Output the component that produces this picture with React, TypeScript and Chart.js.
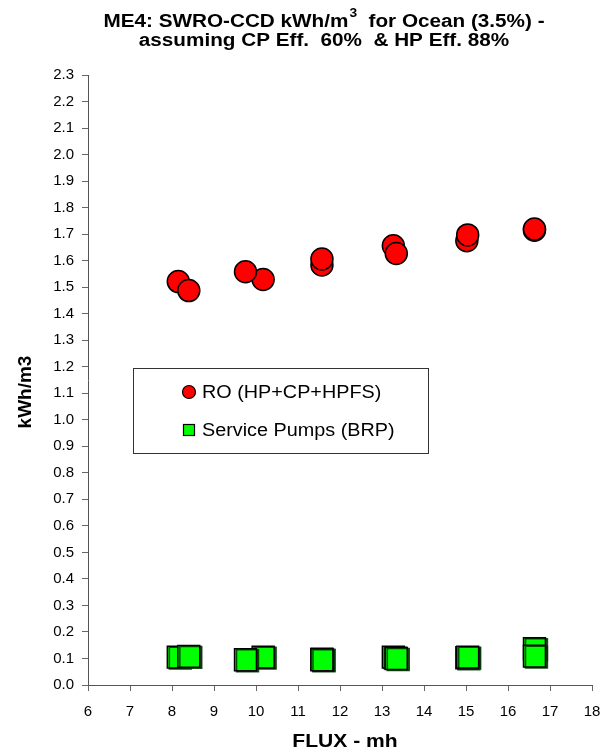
import React, { useEffect, useRef } from "react";
import { Chart, registerables } from "chart.js";

Chart.register(...registerables);

// ---- data ----
const fluxValues = [8.15, 8.4, 10.17, 9.75, 11.57, 11.57, 13.27, 13.34, 15.02, 15.04, 16.63, 16.63];
const roValues = [1.521, 1.487, 1.529, 1.558, 1.584, 1.606, 1.656, 1.627, 1.675, 1.697, 1.715, 1.719];
const brpValues = [0.105, 0.108, 0.105, 0.095, 0.097, 0.095, 0.105, 0.1, 0.103, 0.105, 0.137, 0.109];

const seriesLabels = ["RO (HP+CP+HPFS)", "Service Pumps (BRP)"];
const titleLine1 = ["ME4: SWRO-CCD kWh/m", "3", "  for Ocean (3.5%) -"];
const titleLine2 = "assuming CP Eff.  60%  & HP Eff. 88%";
const xAxisTitle = "FLUX - mh";
const yAxisTitle = "kWh/m3";
const xMin = 6;
const xMax = 18;
const xStep = 1;
const yMin = 0;
const yMax = 2.3;
const yStep = 0.1;

const FONT = "'Liberation Sans', Arial, Helvetica, sans-serif";
const STRETCH = 1.15;

function stretchedText(ctx: CanvasRenderingContext2D, text: string, x: number, y: number, sx: number, align: "left" | "center") {
  const w = ctx.measureText(text).width * sx;
  const startX = align === "center" ? x - w / 2 : x;
  ctx.save();
  ctx.translate(startX, y);
  ctx.scale(sx, 1);
  ctx.textAlign = "left";
  ctx.fillText(text, 0, 0);
  ctx.restore();
  return w;
}

const overlayPlugin = {
  id: "overlay",
  afterDraw(chart: any) {
    const ctx: CanvasRenderingContext2D = chart.ctx;
    ctx.save();
    ctx.fillStyle = "#000";
    ctx.textBaseline = "alphabetic";
    ctx.textAlign = "left";

    // Title line 1 with superscript
    const cx = 324;
    const big = `bold 18px ${FONT}`;
    const small = `bold 12px ${FONT}`;
    ctx.font = big;
    const w1 = ctx.measureText(titleLine1[0]).width * STRETCH;
    const w3 = ctx.measureText(titleLine1[2]).width * STRETCH;
    ctx.font = small;
    const w2 = ctx.measureText(titleLine1[1]).width * STRETCH + 1;
    let x = cx - (w1 + w2 + w3) / 2;
    ctx.font = big;
    stretchedText(ctx, titleLine1[0], x, 27, STRETCH, "left");
    x += w1;
    ctx.font = small;
    stretchedText(ctx, titleLine1[1], x + 1, 17, STRETCH, "left");
    x += w2;
    ctx.font = big;
    stretchedText(ctx, titleLine1[2], x, 27, STRETCH, "left");

    stretchedText(ctx, titleLine2, cx, 46, STRETCH, "center");

    // axis titles
    ctx.font = `bold 18px ${FONT}`;
    ctx.textBaseline = "middle";
    stretchedText(ctx, xAxisTitle, 345, 742, 1.17, "center");
    ctx.save();
    ctx.translate(26, 392);
    ctx.rotate(-Math.PI / 2);
    ctx.font = `bold 19px ${FONT}`;
    ctx.textAlign = "center";
    ctx.fillText(yAxisTitle, 0, 0);
    ctx.restore();

    // legend box
    const lx = 133;
    const ly = 368;
    const lw = 295;
    const lh = 85;
    ctx.fillStyle = "#fff";
    ctx.fillRect(lx, ly, lw, lh);
    ctx.strokeStyle = "#333";
    ctx.lineWidth = 1;
    ctx.strokeRect(lx + 0.5, ly + 0.5, lw, lh);

    // legend markers
    ctx.beginPath();
    ctx.arc(189, 392, 6.5, 0, Math.PI * 2);
    ctx.fillStyle = "#ff0000";
    ctx.fill();
    ctx.strokeStyle = "#000";
    ctx.lineWidth = 1.2;
    ctx.stroke();

    ctx.fillStyle = "#00ff00";
    ctx.fillRect(183.5, 424.5, 11, 11);
    ctx.strokeRect(183.5, 424.5, 11, 11);

    ctx.fillStyle = "#000";
    ctx.font = `18px ${FONT}`;
    stretchedText(ctx, seriesLabels[0], 202, 393, 1.1, "left");
    stretchedText(ctx, seriesLabels[1], 202, 431, 1.1, "left");

    ctx.restore();
  },
};

const shadowPlugin = {
  id: "squareShadow",
  beforeDatasetDraw(chart: any, args: any) {
    if (args.index === 1) {
      const ctx = chart.ctx;
      ctx.save();
      ctx.shadowColor = "rgba(0,50,0,0.85)";
      ctx.shadowOffsetX = 2;
      ctx.shadowOffsetY = 1;
      ctx.shadowBlur = 0;
    }
  },
  afterDatasetDraw(chart: any, args: any) {
    if (args.index === 1) {
      chart.ctx.restore();
    }
  },
};

export default function App() {
  const ref = useRef<HTMLCanvasElement | null>(null);

  useEffect(() => {
    if (!ref.current) return;
    const chart = new Chart(ref.current, {
      type: "scatter",
      data: {
        datasets: [
          {
            label: seriesLabels[0],
            data: fluxValues.map((f, i) => ({ x: f, y: roValues[i] })),
            pointStyle: "circle",
            pointRadius: 11,
            pointHoverRadius: 11,
            backgroundColor: "#ff0000",
            borderColor: "#000",
            pointBorderWidth: 1.5,
          },
          {
            label: seriesLabels[1],
            data: fluxValues.map((f, i) => ({ x: f, y: brpValues[i] })),
            pointStyle: "rect",
            pointRadius: 15.5,
            pointHoverRadius: 15.5,
            backgroundColor: "#00ff00",
            borderColor: "#000",
            pointBorderWidth: 1.5,
          },
        ],
      },
      options: {
        responsive: false,
        animation: false,
        events: [],
        layout: { padding: { top: 75, right: 22, left: 0, bottom: 0 } },
        plugins: {
          legend: { display: false },
          title: { display: false },
          tooltip: { enabled: false },
        },
        scales: {
          x: {
            type: "linear",
            min: xMin,
            max: xMax,
            afterFit: (s: any) => {
              s.height = 70;
            },
            ticks: {
              stepSize: xStep,
              color: "#000",
              font: { family: FONT, size: 15 },
              padding: 12,
              maxRotation: 0,
            },
            grid: {
              drawOnChartArea: false,
              drawTicks: true,
              tickLength: 6,
              color: "#666",
            },
            border: { color: "#555", width: 1 },
          },
          y: {
            type: "linear",
            min: yMin,
            max: yMax,
            afterFit: (s: any) => {
              s.width = 88;
            },
            ticks: {
              stepSize: yStep,
              color: "#000",
              font: { family: FONT, size: 15 },
              padding: 8,
              callback: (v: any) => Number(v).toFixed(1),
            },
            grid: {
              drawOnChartArea: false,
              drawTicks: true,
              tickLength: 6,
              color: "#666",
            },
            border: { color: "#555", width: 1 },
          },
        },
      },
      plugins: [shadowPlugin, overlayPlugin],
    });
    return () => chart.destroy();
  }, []);

  return (
    <div style={{ position: "absolute", left: 0, top: 0, width: 614, height: 755, background: "#fff" }}>
      <canvas ref={ref} width={614} height={755} />
    </div>
  );
}
